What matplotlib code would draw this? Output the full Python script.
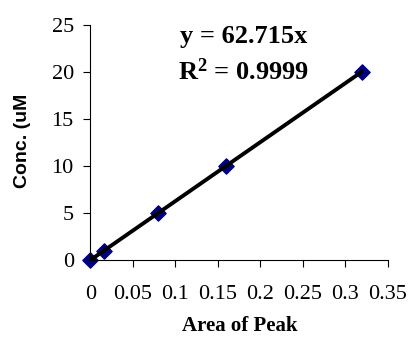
import numpy as np
import matplotlib
matplotlib.use("Agg")
import matplotlib.pyplot as plt

# Calibration curve: peak area vs concentration
area = [0.0, 0.016, 0.079, 0.160, 0.320]
conc = [0, 1, 5, 10, 20]
slope = 62.715
r2 = 0.9999

x_ticks = [0, 0.05, 0.1, 0.15, 0.2, 0.25, 0.3, 0.35]
x_labels = ["0", "0.05", "0.1", "0.15", "0.2", "0.25", "0.3", "0.35"]
y_ticks = [0, 5, 10, 15, 20, 25]

serif = "Liberation Serif"
sans = "Liberation Sans"

plt.rcParams["mathtext.fontset"] = "custom"
plt.rcParams["mathtext.rm"] = "Liberation Serif"
plt.rcParams["mathtext.bf"] = "Liberation Serif:bold"

fig = plt.figure(figsize=(4.1, 3.38), dpi=100)
ax = fig.add_axes([0.2207, 0.2308, 0.7253, 0.6952])

# Linear trendline through the origin
xfit = np.array([0.0, max(conc) / slope])
ax.plot(xfit, slope * xfit, color="black", linewidth=2.8, zorder=3)

ax.scatter(area, conc, marker="D", s=60, color="#000080", edgecolor="#000080",
           zorder=2, clip_on=False)

ax.set_xlim(0, 0.35)
ax.set_ylim(0, 25)
ax.set_xticks(x_ticks)
ax.set_xticklabels(x_labels)
ax.set_yticks(y_ticks)

for s in ["top", "right"]:
    ax.spines[s].set_visible(False)
for s in ["left", "bottom"]:
    ax.spines[s].set_linewidth(0.8)
    ax.spines[s].set_color("black")

ax.tick_params(axis="x", direction="out", length=5, width=0.8, pad=13)
ax.tick_params(axis="y", direction="out", length=5, width=0.8, pad=7)
for lab in ax.get_xticklabels() + ax.get_yticklabels():
    lab.set_fontfamily(serif)
    lab.set_fontsize(16)

fig.text(0.056, 0.583, "Conc. (uM", rotation=90, ha="center", va="center",
         fontfamily=sans, fontweight="bold", fontsize=14)
fig.text(0.585, 0.036, "Area of Peak", ha="center", va="center",
         fontfamily=serif, fontweight="bold", fontsize=15)

ax.text(0.595, 0.891, "y = 62.715x", transform=fig.transFigure, ha="center",
        va="center", fontfamily=serif, fontweight="bold", fontsize=19)
ax.text(0.593, 0.787, r"$\mathbf{R^2}$ = 0.9999", transform=fig.transFigure,
        ha="center", va="center", fontfamily=serif, fontweight="bold", fontsize=19)

fig.savefig("out.png", dpi=100)
